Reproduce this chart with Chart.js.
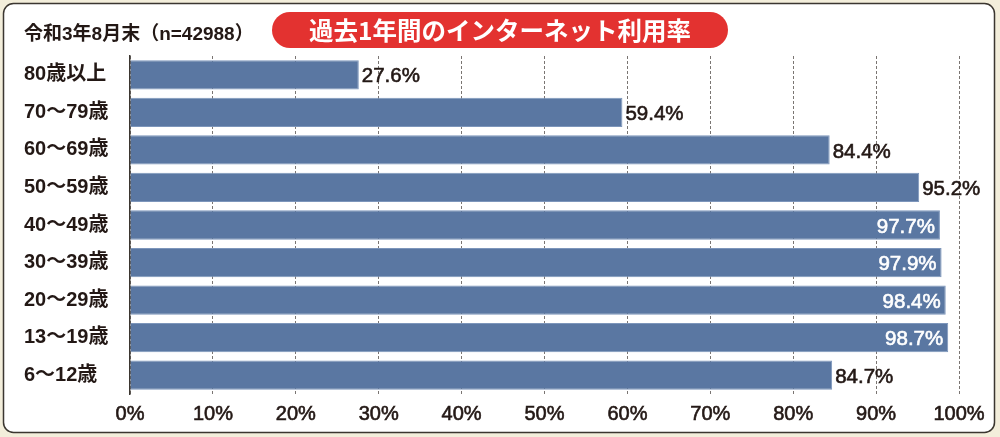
<!DOCTYPE html>
<html>
<head>
<meta charset="utf-8">
<script src="https://cdn.jsdelivr.net/npm/chart.js@4/dist/chart.umd.min.js"></script>
<style>
  html, body { margin: 0; padding: 0; background: #f3eedb; }
  #wrap { width: 1000px; height: 437px; position: relative; }
</style>
</head>
<body>
<div id="wrap"><canvas id="chart" width="1000" height="437"></canvas></div>
<script>
// Data
const ageGroups = ['80歳以上', '70〜79歳', '60〜69歳', '50〜59歳', '40〜49歳', '30〜39歳', '20〜29歳', '13〜19歳', '6〜12歳'];
const usageRates = [27.6, 59.4, 84.4, 95.2, 97.7, 97.9, 98.4, 98.7, 84.7];
const xTicks = [0, 10, 20, 30, 40, 50, 60, 70, 80, 90, 100];
const titleText = '過去1年間のインターネット利用率';
const noteText = '令和3年8月末（n=42988）';

const INK = '#231815';
const FONT = '"Liberation Sans", "Noto Sans CJK JP", sans-serif';

// Background frame, red title pill and note text
const framePlugin = {
    id: 'frame',
    beforeDraw(chart) {
        const ctx = chart.ctx;
        ctx.save();
        ctx.fillStyle = '#f3eedb';
        ctx.fillRect(0, 0, chart.width, chart.height);
        ctx.beginPath();
        ctx.roundRect(3.5, 3.5, 991, 429, 10);
        ctx.fillStyle = '#ffffff';
        ctx.fill();
        ctx.lineWidth = 1.5;
        ctx.strokeStyle = '#3b3630';
        ctx.stroke();
        ctx.restore();
    },
    afterDraw(chart) {
        const ctx = chart.ctx;
        ctx.save();
        // title pill
        ctx.beginPath();
        ctx.roundRect(272, 12, 456, 36, 18);
        ctx.fillStyle = '#e33230';
        ctx.fill();
        ctx.fillStyle = '#ffffff';
        ctx.font = 'bold 24.5px "Noto Sans CJK JP", sans-serif';
        ctx.textAlign = 'center';
        ctx.textBaseline = 'middle';
        ctx.fillText(titleText, 500, 31);
        // note
        ctx.fillStyle = INK;
        ctx.font = 'bold 19px ' + FONT;
        ctx.textAlign = 'left';
        ctx.fillText(noteText, 24, 35);
        ctx.restore();
    }
};

// Percentage labels at the end of each bar
const valueLabels = {
    id: 'valueLabels',
    afterDatasetsDraw(chart) {
        const ctx = chart.ctx;
        const meta = chart.getDatasetMeta(0);
        ctx.save();
        ctx.font = '20.5px ' + FONT;
        ctx.textBaseline = 'middle';
        ctx.lineWidth = 0.6;
        meta.data.forEach((bar, i) => {
            const v = usageRates[i];
            const txt = v.toFixed(1) + '%';
            let x;
            if (v >= 97) {
                ctx.fillStyle = ctx.strokeStyle = '#ffffff';
                ctx.textAlign = 'right';
                x = bar.x - 5;
            } else {
                ctx.fillStyle = ctx.strokeStyle = INK;
                ctx.textAlign = 'left';
                x = bar.x + 3;
            }
            ctx.fillText(txt, x, bar.y + 2);
            ctx.strokeText(txt, x, bar.y + 2);
        });
        ctx.restore();
    }
};

new Chart(document.getElementById('chart'), {
    type: 'bar',
    data: {
        labels: ageGroups,
        datasets: [{
            data: usageRates,
            backgroundColor: '#5a77a2',
            borderColor: '#7d96bb',
            borderWidth: 1,
            categoryPercentage: 0.78,
            barPercentage: 1
        }]
    },
    options: {
        indexAxis: 'y',
        responsive: false,
        animation: false,
        layout: { padding: { left: 24, right: 41, top: 56, bottom: 0 } },
        plugins: {
            legend: { display: false },
            tooltip: { enabled: false }
        },
        scales: {
            x: {
                min: 0,
                max: 100,
                afterBuildTicks(scale) {
                    scale.ticks = xTicks.map(v => ({ value: v }));
                },
                afterFit(scale) { scale.height = 43; },
                grid: { color: '#7a7572', lineWidth: 1, drawTicks: false },
                border: { display: false, dash: [3, 2] },
                ticks: {
                    padding: 8,
                    color: INK,
                    textStrokeColor: INK,
                    textStrokeWidth: 0.6,
                    font: { family: FONT, size: 20 },
                    callback: v => v + '%'
                }
            },
            y: {
                afterFit(scale) { scale.width = 106; },
                grid: { display: false },
                border: { display: true, color: '#3b3630', width: 1.5 },
                ticks: {
                    crossAlign: 'far',
                    padding: 0,
                    color: INK,
                    font: { family: FONT, size: 20, weight: 'bold' }
                }
            }
        }
    },
    plugins: [framePlugin, valueLabels]
});
</script>
</body>
</html>
